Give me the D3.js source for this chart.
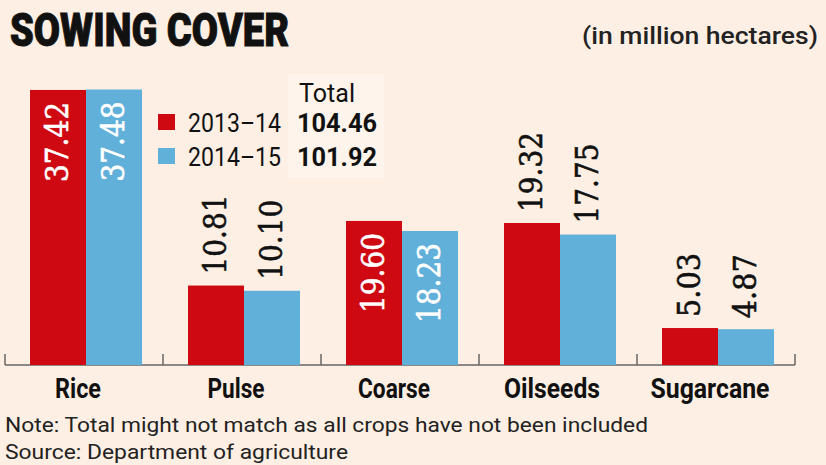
<html>
<head>
<script src="https://d3js.org/d3.v7.min.js"></script>
<style>
  body { margin: 0; background: #fdefe3; }
  svg { display: block; }
  .sans { font-family: Roboto, "Open Sans", sans-serif; }
  .val { font-family: "DejaVu Serif", serif; }
</style>
</head>
<body>
<svg width="826" height="465"></svg>
<script>
  // data (million hectares)
  var crops = ["Rice", "Pulse", "Coarse", "Oilseeds", "Sugarcane"];
  var years = ["2013-14", "2014-15"];
  var area1314 = [37.42, 10.81, 19.60, 19.32, 5.03];
  var area1415 = [37.48, 10.10, 18.23, 17.75, 4.87];
  var totals = ["104.46", "101.92"];
  var labelsInside = ["Rice", "Coarse"];

  var colors = ["#cf0912", "#61b0d9"];
  var width = 826, height = 465;
  var baseY = 365;

  var svg = d3.select("svg");

  var x0 = d3.scaleBand().domain(crops).range([5, 795]).padding(0);
  var x1 = d3.scaleBand().domain(years).range([25, 137]).padding(0);
  var y = d3.scaleLinear().domain([0, 40]).range([baseY, baseY - 294]);

  var rows = crops.map(function(c, i) {
    return { crop: c, vals: [area1314[i], area1415[i]] };
  });

  // faint backdrop behind the totals
  svg.append("rect").attr("x", 288).attr("y", 74).attr("width", 96).attr("height", 104)
    .attr("fill", "#fef4eb");

  // baseline + ticks
  svg.append("line").attr("x1", 5).attr("x2", 795).attr("y1", baseY).attr("y2", baseY)
    .attr("stroke", "#666").attr("stroke-width", 1.5);
  var tickPos = crops.map(function(c) { return x0(c); }).concat([795]);
  svg.selectAll(".tk").data(tickPos).enter().append("line")
    .attr("x1", d => d).attr("x2", d => d)
    .attr("y1", baseY - 11).attr("y2", baseY)
    .attr("stroke", "#666").attr("stroke-width", 1.5);

  var g = svg.selectAll(".grp").data(rows).enter().append("g")
    .attr("transform", d => "translate(" + x0(d.crop) + ",0)");

  g.selectAll("rect").data(function(d) {
      return d.vals.map(function(v, j) { return { crop: d.crop, year: years[j], v: v, j: j }; });
    }).enter().append("rect")
    .attr("x", d => x1(d.year))
    .attr("y", d => y(d.v))
    .attr("width", x1.bandwidth())
    .attr("height", d => baseY - y(d.v))
    .attr("fill", d => colors[d.j]);

  g.selectAll("text.val").data(function(d) {
      return d.vals.map(function(v, j) { return { crop: d.crop, year: years[j], v: v, j: j }; });
    }).enter().append("text")
    .attr("class", "val")
    .attr("transform", function(d) {
      var cx = x1(d.year) + x1.bandwidth() / 2 - 2;
      var inside = labelsInside.indexOf(d.crop) >= 0;
      var cy = inside ? y(d.v) + 12 : y(d.v) - 11;
      return "translate(" + cx + "," + cy + ") rotate(-90)";
    })
    .attr("text-anchor", d => labelsInside.indexOf(d.crop) >= 0 ? "end" : "start")
    .attr("dy", "0.36em")
    .attr("font-size", 32)
    .attr("textLength", d => d.v.toFixed(2).length * 16)
    .attr("lengthAdjust", "spacingAndGlyphs")
    .attr("fill", d => labelsInside.indexOf(d.crop) >= 0 ? "#fff" : "#111")
    .attr("stroke", d => labelsInside.indexOf(d.crop) >= 0 ? "#fff" : "#111")
    .attr("stroke-width", 0.6)
    .text(d => d.v.toFixed(2));

  // category labels
  var catW = { "Rice": 46, "Pulse": 57, "Coarse": 72, "Oilseeds": 96, "Sugarcane": 119 };
  svg.selectAll(".cat").data(crops).enter().append("text")
    .attr("class", "sans")
    .attr("x", d => x0(d) + x0.bandwidth() / 2 - 6)
    .attr("y", 398)
    .attr("text-anchor", "middle")
    .attr("font-size", 27)
    .attr("font-weight", "bold")
    .attr("textLength", d => catW[d])
    .attr("lengthAdjust", "spacingAndGlyphs")
    .attr("fill", "#111")
    .text(d => d);

  // title and unit
  svg.append("text").attr("class", "sans")
    .attr("x", 10).attr("y", 46)
    .attr("font-size", 47).attr("font-weight", 900)
    .attr("stroke", "#111").attr("stroke-width", 1)
    .attr("textLength", 279).attr("lengthAdjust", "spacingAndGlyphs")
    .attr("fill", "#111").text("SOWING COVER");

  svg.append("text").attr("class", "sans")
    .attr("x", 582).attr("y", 44)
    .attr("font-size", 23).attr("font-weight", 500)
    .attr("textLength", 236).attr("lengthAdjust", "spacingAndGlyphs")
    .attr("fill", "#222").text("(in million hectares)");

  // legend
  svg.append("text").attr("class", "sans")
    .attr("x", 299).attr("y", 102).attr("font-size", 26)
    .attr("textLength", 56).attr("lengthAdjust", "spacingAndGlyphs")
    .attr("fill", "#111").text("Total");

  var leg = svg.selectAll(".leg").data(years).enter().append("g")
    .attr("transform", (d, i) => "translate(0," + (i * 34) + ")");
  leg.append("rect").attr("x", 158).attr("y", 114).attr("width", 17).attr("height", 16)
    .attr("fill", (d, i) => colors[i]);
  leg.append("text").attr("class", "sans")
    .attr("x", 188).attr("y", 132).attr("font-size", 26)
    .attr("textLength", 93).attr("lengthAdjust", "spacingAndGlyphs")
    .attr("fill", "#111").text(d => d.replace("-", "\u2013"));
  leg.append("text").attr("class", "sans")
    .attr("x", 297).attr("y", 132).attr("font-size", 26).attr("font-weight", "bold")
    .attr("textLength", 80).attr("lengthAdjust", "spacingAndGlyphs")
    .attr("fill", "#111").text((d, i) => totals[i]);

  // footnotes
  svg.append("text").attr("class", "sans")
    .attr("x", 5).attr("y", 432).attr("font-size", 21)
    .attr("textLength", 643).attr("lengthAdjust", "spacingAndGlyphs")
    .attr("fill", "#222").text("Note: Total might not match as all crops have not been included");
  svg.append("text").attr("class", "sans")
    .attr("x", 5).attr("y", 459).attr("font-size", 21)
    .attr("textLength", 343).attr("lengthAdjust", "spacingAndGlyphs")
    .attr("fill", "#222").text("Source: Department of agriculture");
</script>
</body>
</html>
